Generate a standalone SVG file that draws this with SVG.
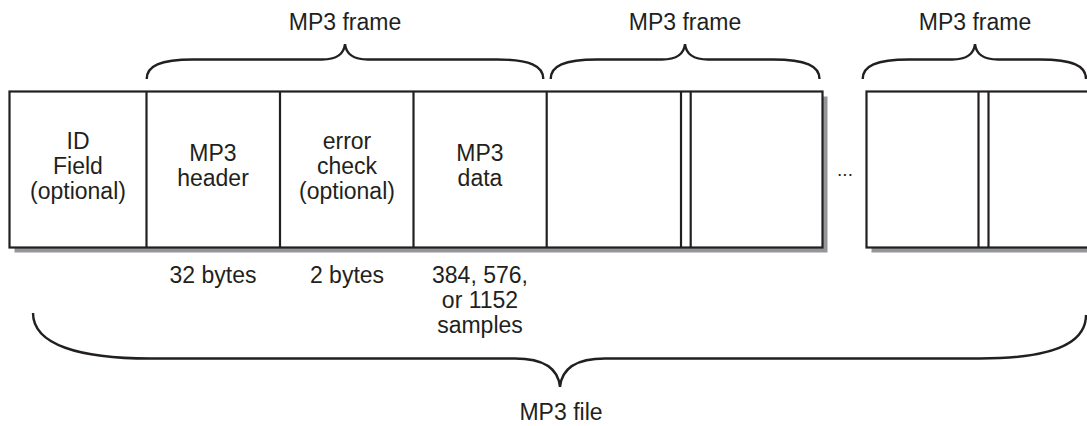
<svg xmlns="http://www.w3.org/2000/svg" width="1087" height="426" viewBox="0 0 1087 426">
<style>
.t{font-family:"Liberation Sans",Arial,sans-serif;font-size:23px;fill:#231f20;text-anchor:middle}
.box{fill:#fff;stroke:#231f20;stroke-width:2.2}
.ln{stroke:#231f20;stroke-width:2.2;fill:none}
.sh{fill:#939598}
.br{stroke:#231f20;stroke-width:2.4;fill:none}
</style>
<rect width="1087" height="426" fill="#fff"/>
<g id="shadows">
<rect class="sh" x="14.5" y="96.5" width="813" height="156"/>
<rect class="sh" x="871.5" y="96.5" width="230" height="156"/>
</g>
<g id="file-body">
<rect class="box" x="9.5" y="91.5" width="813" height="156"/>
<rect class="box" x="866.5" y="91.5" width="230" height="156"/>
</g>
<g id="id-field">
<text class="t" x="78" y="149">ID</text>
<text class="t" x="78" y="174">Field</text>
<text class="t" x="78" y="199">(optional)</text>
</g>
<g id="mp3-header">
<line class="ln" x1="146.5" y1="91.5" x2="146.5" y2="247.5"/>
<text class="t" x="213" y="161">MP3</text>
<text class="t" x="213" y="186">header</text>
<text class="t" x="213" y="283">32 bytes</text>
</g>
<g id="error-check">
<line class="ln" x1="280" y1="91.5" x2="280" y2="247.5"/>
<text class="t" x="347" y="149">error</text>
<text class="t" x="347" y="174">check</text>
<text class="t" x="347" y="199">(optional)</text>
<text class="t" x="347" y="283">2 bytes</text>
</g>
<g id="mp3-data">
<line class="ln" x1="413.5" y1="91.5" x2="413.5" y2="247.5"/>
<text class="t" x="480" y="161">MP3</text>
<text class="t" x="480" y="186">data</text>
<text class="t" x="480" y="283">384, 576,</text>
<text class="t" x="480" y="308">or 1152</text>
<text class="t" x="480" y="333">samples</text>
</g>
<g id="frame-2">
<line class="ln" x1="546.7" y1="91.5" x2="546.7" y2="247.5"/>
<line class="ln" x1="681" y1="91.5" x2="681" y2="247.5"/>
<line class="ln" x1="690.7" y1="91.5" x2="690.7" y2="247.5"/>
</g>
<g id="ellipsis">
<text class="t" x="845" y="176" style="font-size:19px">...</text>
</g>
<g id="frame-n">
<line class="ln" x1="978.5" y1="91.5" x2="978.5" y2="247.5"/>
<line class="ln" x1="988.5" y1="91.5" x2="988.5" y2="247.5"/>
</g>
<g id="connectors">
<path class="br" d="M146.7,79 C146.7,66 160,59.5 193,59.5 L322,59.5 C336,59.5 344,54 345,44 C346,54 354,59.5 368,59.5 L497,59.5 C530,59.5 543.3,66 543.3,79"/>
<path class="br" d="M550.7,79 C550.7,66 564,59.5 597,59.5 L662,59.5 C676,59.5 684,54 685,44 C686,54 694,59.5 708,59.5 L773,59.5 C806,59.5 819.5,66 819.5,79"/>
<path class="br" d="M862.7,79 C862.7,66 876,59.5 909,59.5 L952,59.5 C966,59.5 974,54 975,44 C976,54 984,59.5 998,59.5 L1040,59.5 C1073,59.5 1086,66 1086,79"/>
<path class="br" d="M33,313 C33,345 80,358.5 150,358.5 L515,358.5 C540,358.5 558,366 560,387 C562,366 580,358.5 605,358.5 L980,358.5 C1050,358.5 1086,345 1086,315"/>
</g>
<g id="labels">
<text class="t" x="345" y="30">MP3 frame</text>
<text class="t" x="685" y="30">MP3 frame</text>
<text class="t" x="975" y="30">MP3 frame</text>
<text class="t" x="561" y="420">MP3 file</text>
</g>
</svg>
